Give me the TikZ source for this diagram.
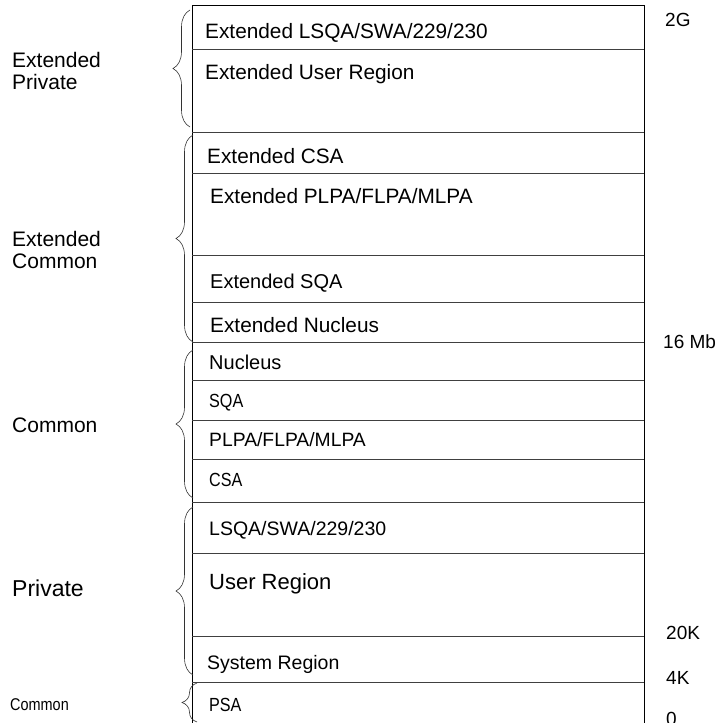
\documentclass[tikz,border=0pt]{standalone}
\usepackage{fontspec}
\setmainfont{Liberation Sans}
\newfontfamily\narrowfont{Liberation Sans}[FakeStretch=0.85]
\usetikzlibrary{decorations.pathreplacing}
\tikzset{>=latex}

\begin{document}
\begin{tikzpicture}
  [
   x=1pt,y=-1pt, % work in points, y grows downwards
   area/.style={anchor=west,inner sep=0pt,text height=14pt,text depth=0pt,
                font=\fontsize{20}{22}\selectfont},
   xarea/.style={area,font=\fontsize{20.8}{23}\selectfont},
   narrow/.style={area,font=\narrowfont\fontsize{19}{21}\selectfont},
   side/.style={anchor=west,inner sep=0pt,align=left,
                font=\fontsize{21}{21.5}\selectfont},
   addr/.style={area,font=\fontsize{19}{21}\selectfont},
   grp/.style={decorate,decoration={brace,amplitude=#1},
               draw=black!80,line width=0.6pt},
   grp/.default=17pt
  ]
  \useasboundingbox (0,0) rectangle (717,723);
  \clip (0,0) rectangle (717,723);

  % frame of the address space (runs on below the page)
  \draw[line width=0.9pt] (192,740) -- (192,5) -- (644,5) -- (644,740);
  % borders between the areas
  \foreach \y in {49,132,173,255,302,342,380,420,459,502,553,636,682}
    \draw[draw=black!75,line width=0.8pt] (192,\y) -- (644,\y);

  % above 16 Mb
  \node[xarea] (xlsqa) at (205,31)  {Extended LSQA/SWA/229/230};
  \node[xarea] (xuser) at (205,72)  {Extended User Region};
  \node[xarea] (xcsa)  at (207,156) {Extended CSA};
  \node[xarea] (xplpa) at (210,196) {Extended PLPA/FLPA/MLPA};
  \node[area]  (xsqa)  at (210,281) {Extended SQA};
  \node[xarea] (xnuc)  at (210,325) {Extended Nucleus};
  % below 16 Mb
  \node[area]   (nuc)  at (209,362) {Nucleus};
  \node[narrow] (sqa)  at (209,400) {SQA};
  \node[area,font=\fontsize{19.3}{21}\selectfont] (plpa) at (209,439) {PLPA/FLPA/MLPA};
  \node[narrow] (csa)  at (209,479) {CSA};
  \node[area,font=\fontsize{19.5}{21}\selectfont] (lsqa) at (209,528) {LSQA/SWA/229/230};
  \node[area,font=\fontsize{22}{24}\selectfont] (user) at (209,582) {User Region};
  \node[area,font=\fontsize{19.5}{21}\selectfont] (sys) at (207,662) {System Region};
  \node[narrow] (psa)  at (209,704) {PSA};

  % addresses on the right
  \node[addr] (a2g)  at (665,19)  {2G};
  \node[addr] (a16m) at (663,341) {16 Mb};
  \node[addr] (a20k) at (666,632) {20K};
  \node[addr] (a4k)  at (666,677) {4K};
  \node[addr] (a0)   at (666,718) {0};

  % groups on the left
  \draw[grp] (190,127) -- (190,10);
  \draw[grp] (193,342) -- (193,135);
  \draw[grp] (193,498) -- (193,350);
  \draw[grp] (193,675) -- (193,507);
  \draw[grp=15pt] (197,722) -- (197,683);

  \node[side] (gxpriv) at (12,71)  {Extended\\Private};
  \node[side] (gxcomm) at (12,250) {Extended\\Common};
  \node[area,font=\fontsize{21}{23}\selectfont] (gcomm) at (12,425) {Common};
  \node[area,font=\fontsize{23}{25}\selectfont] (gpriv) at (12,589) {Private};
  \node[narrow,font=\narrowfont\fontsize{17}{19}\selectfont] (gpsa) at (10,703) {Common};
\end{tikzpicture}
\end{document}
